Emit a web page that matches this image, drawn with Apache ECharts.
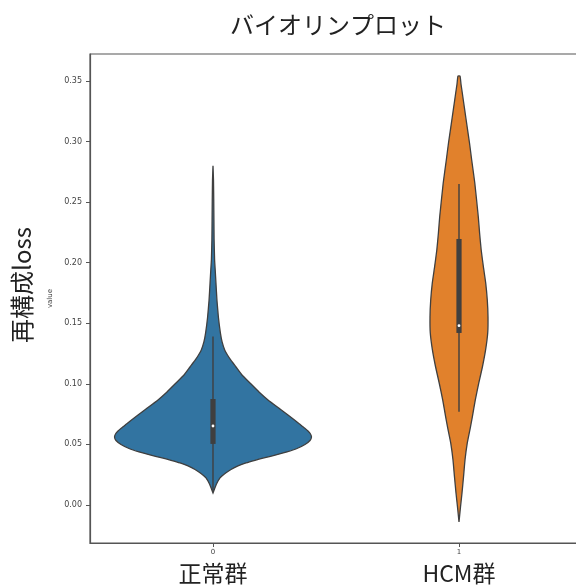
<!DOCTYPE html>
<html>
<head>
<meta charset="utf-8">
<script src="https://cdn.jsdelivr.net/npm/echarts@6/dist/echarts.min.js"></script>
<style>
html,body{margin:0;padding:0;background:#fff;}
#chart{width:576px;height:586px;}
</style>
</head>
<body>
<div id="chart"></div>
<script>
const categories = ['0', '1'];
const groupLabels = ['正常群', 'HCM群'];
const yTicks = [0, 0.05, 0.10, 0.15, 0.20, 0.25, 0.30, 0.35];
const colors = ['#3274A1', '#E1812C'];

// density profile: value and half-width (fraction of category band)
const normalVals   = [0.0099, 0.0132, 0.0173, 0.0223, 0.0260, 0.0293, 0.0322, 0.0347, 0.0369, 0.0391, 0.0413, 0.0438, 0.0466, 0.0499, 0.0532, 0.0561, 0.0586, 0.0611, 0.0636, 0.0669, 0.0702, 0.0743, 0.0792, 0.0867, 0.0933, 0.1007, 0.1073, 0.1139, 0.1197, 0.1238, 0.1280, 0.1346, 0.1420, 0.1550, 0.1692, 0.1833, 0.1940, 0.2022, 0.2188, 0.2353, 0.2518, 0.2680, 0.2800];
const normalWidths = [0.000,  0.0061, 0.0142, 0.0285, 0.0488, 0.0732, 0.1016, 0.1341, 0.1707, 0.2114, 0.2561, 0.3008, 0.3415, 0.3740, 0.3943, 0.4004, 0.3963, 0.3862, 0.3720, 0.3516, 0.3313, 0.3049, 0.2724, 0.2236, 0.1870, 0.1504, 0.1179, 0.0935, 0.0720, 0.0589, 0.0476, 0.0370, 0.0300, 0.0220, 0.0160, 0.0120, 0.0090, 0.0065, 0.0045, 0.0037, 0.0030, 0.0020, 0.000];

const hcmVals   = [-0.0140, -0.0017, 0.0099, 0.0231, 0.0371, 0.0512, 0.0644, 0.0726, 0.0867, 0.1007, 0.1139, 0.1280, 0.1420, 0.1552, 0.1692, 0.1833, 0.1965, 0.2105, 0.2245, 0.2377, 0.2658, 0.2848, 0.2988, 0.3120, 0.3261, 0.3401, 0.3475, 0.3541];
const hcmWidths = [0.000,   0.0061,  0.0122, 0.0183, 0.0244, 0.0337, 0.0467, 0.0541, 0.0663, 0.0805, 0.0951, 0.1081, 0.1167, 0.1179, 0.1150, 0.1085, 0.0992, 0.0902, 0.0837, 0.0785, 0.0642, 0.0516, 0.0427, 0.0333, 0.0232, 0.0134, 0.0081, 0.0041];

// box stats: [lower whisker, q1, median, q3, upper whisker]
const normalBox = [0.0110, 0.0504, 0.0652, 0.0875, 0.1390];
const hcmBox    = [0.0770, 0.1420, 0.1480, 0.2196, 0.2650];

const profiles = [
  {vals: normalVals, widths: normalWidths, box: normalBox},
  {vals: hcmVals, widths: hcmWidths, box: hcmBox}
];

const lineColor = '#3f3f3f';

function renderViolin(params, api) {
  const idx = api.value(0);
  const p = profiles[idx];
  const band = api.size([1, 0])[0];
  const right = [], left = [];
  for (let i = 0; i < p.vals.length; i++) {
    const c = api.coord([idx, p.vals[i]]);
    const hw = p.widths[i] * band;
    right.push([c[0] + hw, c[1]]);
    left.push([c[0] - hw, c[1]]);
  }
  const pts = right.concat(left.reverse());
  const b = p.box;
  const wl = api.coord([idx, b[0]]);
  const q1 = api.coord([idx, b[1]]);
  const md = api.coord([idx, b[2]]);
  const q3 = api.coord([idx, b[3]]);
  const wh = api.coord([idx, b[4]]);
  return {
    type: 'group',
    children: [
      {
        type: 'polygon',
        shape: {points: pts, smooth: 0.15},
        style: {fill: colors[idx], stroke: lineColor, lineWidth: 1.3}
      },
      {
        type: 'line',
        shape: {x1: wl[0], y1: wl[1], x2: wh[0], y2: wh[1]},
        style: {stroke: lineColor, lineWidth: 1.4}
      },
      {
        type: 'rect',
        shape: {x: q3[0] - 2.6, y: q3[1], width: 5.2, height: q1[1] - q3[1]},
        style: {fill: lineColor}
      },
      {
        type: 'circle',
        shape: {cx: md[0], cy: md[1], r: 1.4},
        style: {fill: '#ffffff'}
      }
    ]
  };
}

const chart = echarts.init(document.getElementById('chart'), null, {renderer: 'canvas'});
chart.setOption({
  backgroundColor: '#ffffff',
  animation: false,
  title: {
    text: 'バイオリンプロット',
    left: 333,
    top: 8,
    textAlign: 'center',
    textStyle: {fontFamily: 'Noto Sans CJK JP', fontSize: 24, fontWeight: 'normal', color: '#222'}
  },
  grid: {
    left: 90, top: 54, width: 492, height: 489,
    containLabel: false,
    outerBoundsMode: 'none',
    show: true, borderColor: '#555', borderWidth: 1.2, backgroundColor: 'transparent'
  },
  graphic: [{
    type: 'text',
    x: 22, y: 285,
    rotation: Math.PI / 2,
    style: {
      text: '再構成loss',
      fontFamily: 'Noto Sans CJK JP',
      fontSize: 24,
      fill: '#222',
      align: 'center',
      verticalAlign: 'middle'
    }
  }],
  xAxis: [{
    type: 'category',
    data: categories,
    boundaryGap: true,
    position: 'bottom',
    axisLine: {show: true, onZero: false, lineStyle: {color: '#555', width: 1.2}},
    axisTick: {show: true, alignWithLabel: true, length: 4, lineStyle: {color: '#555'}},
    axisLabel: {fontFamily: 'DejaVu Sans', fontSize: 7, color: '#444', margin: 6},
    splitLine: {show: false}
  }, {
    type: 'category',
    data: groupLabels,
    boundaryGap: true,
    position: 'bottom',
    offset: 0,
    axisLine: {show: false, onZero: false},
    axisTick: {show: false},
    axisLabel: {fontFamily: 'Noto Sans CJK JP', fontSize: 23, color: '#222', margin: 19},
    splitLine: {show: false}
  }],
  yAxis: {
    type: 'value',
    min: -0.0314,
    max: 0.3723,
    name: 'value',
    nameLocation: 'middle',
    nameGap: 33,
    nameTextStyle: {fontFamily: 'DejaVu Sans', fontSize: 7, color: '#444'},
    axisLine: {show: true, lineStyle: {color: '#555', width: 1.2}},
    axisTick: {show: true, length: 4, lineStyle: {color: '#555'}, customValues: yTicks},
    axisLabel: {
      fontFamily: 'DejaVu Sans', fontSize: 8, color: '#444', margin: 8,
      customValues: yTicks,
      formatter: v => v.toFixed(2)
    },
    splitLine: {show: false}
  },
  series: [{
    type: 'custom',
    xAxisIndex: 0,
    renderItem: renderViolin,
    encode: {x: 0, y: 1},
    data: [[0, normalVals[normalVals.length - 1]], [1, hcmVals[hcmVals.length - 1]]],
    z: 2
  }]
});
</script>
</body>
</html>
